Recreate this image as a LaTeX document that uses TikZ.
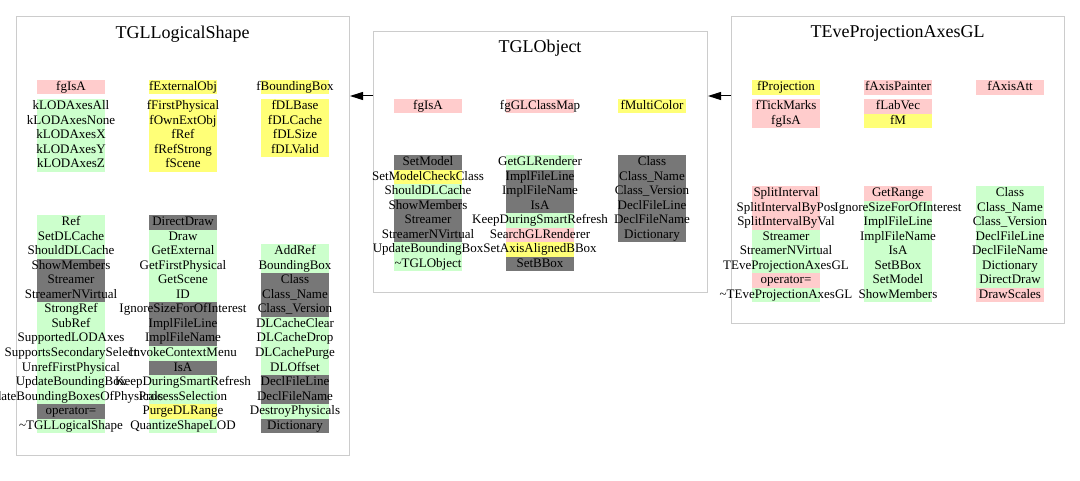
\documentclass[tikz,border=0pt]{standalone}
\usepackage{fontspec}
\setmainfont{Liberation Serif}
\usetikzlibrary{arrows.meta,backgrounds}
\definecolor{cpriv}{RGB}{255,204,204}
\definecolor{cprot}{RGB}{255,255,119}
\definecolor{cpub}{RGB}{204,255,204}
\definecolor{cinh}{RGB}{119,119,119}
\definecolor{cframe}{RGB}{204,204,204}
\tikzset{
  classbox/.style={draw=cframe, line width=1pt, anchor=north west, inner sep=0pt, fill=none},
  titletext/.style={font=\fontsize{18}{20}\selectfont, inner sep=0pt, anchor=base},
  cell/.style={inner sep=0pt, font=\fontsize{13}{15}\selectfont, anchor=base},
  arr/.style={draw=black, line width=1pt, -{Triangle[length=13pt,width=8pt]}},
}
\newcommand\mkcol[5]{%
  \foreach \t/\col [count=\i from 0] in {#5} {
    \begin{pgfonlayer}{background}
      \fill[fill=\col] ({#2-33.75},{#3+\i*#4}) rectangle ++(67.5,#4);
    \end{pgfonlayer}
    \node[cell] (#1-\i) at (#2,{#3+\i*#4+10.5}) {\makebox[67.5pt]{\t}};
  }}
\begin{document}
\begin{tikzpicture}[x=1pt,y=-1pt]
\useasboundingbox (0,0) rectangle (1080,481);
% class boxes
\node[classbox, minimum width=333pt, minimum height=439pt] (shape) at (16,16) {};
\node[classbox, minimum width=334pt, minimum height=261pt] (obj) at (373,31) {};
\node[classbox, minimum width=333pt, minimum height=307pt] (eve) at (731,16) {};
% titles
\node[titletext] (shapet) at (182.5,39) {TGLLogicalShape};
\node[titletext] (objt) at (540,53) {TGLObject};
\node[titletext] (evet) at (897.5,38) {TEveProjectionAxesGL};
% arrows
\coordinate (ay) at (0,96);
\draw[arr] (obj.west |- ay) -- (shape.east |- ay);
\draw[arr] (eve.west |- ay) -- (obj.east |- ay);
% TGLLogicalShape
\mkcol{lsa0a}{71}{80}{14.5}{fgIsA/cpriv}
\mkcol{lsa1}{71}{99.3}{14.5}{kLODAxesAll/cpub,kLODAxesNone/cpub,kLODAxesX/cpub,kLODAxesY/cpub,kLODAxesZ/cpub}
\mkcol{lsa0b}{183}{80}{14.5}{fExternalObj/cprot}
\mkcol{lsa2}{183}{99.3}{14.5}{fFirstPhysical/cprot,fOwnExtObj/cprot,fRef/cprot,fRefStrong/cprot,fScene/cprot}
\mkcol{lsa0c}{295}{80}{14.5}{fBoundingBox/cprot}
\mkcol{lsa3}{295}{99.3}{14.5}{fDLBase/cprot,fDLCache/cprot,fDLSize/cprot,fDLValid/cprot}
\mkcol{lsm1}{71}{215}{14.55}{Ref/cpub,SetDLCache/cpub,ShouldDLCache/cpub,ShowMembers/cinh,Streamer/cinh,StreamerNVirtual/cinh,StrongRef/cpub,SubRef/cpub,SupportedLODAxes/cpub,SupportsSecondarySelect/cpub,UnrefFirstPhysical/cpub,UpdateBoundingBox/cpub,UpdateBoundingBoxesOfPhysicals/cpub,operator=/cinh,\textasciitilde TGLLogicalShape/cpub}
\mkcol{lsm2}{183}{215}{14.55}{DirectDraw/cinh,Draw/cpub,GetExternal/cpub,GetFirstPhysical/cpub,GetScene/cpub,ID/cpub,IgnoreSizeForOfInterest/cinh,ImplFileLine/cinh,ImplFileName/cinh,InvokeContextMenu/cpub,IsA/cinh,KeepDuringSmartRefresh/cpub,ProcessSelection/cpub,PurgeDLRange/cprot,QuantizeShapeLOD/cpub}
\mkcol{lsm3}{295}{244.1}{14.55}{AddRef/cpub,BoundingBox/cpub,Class/cinh,Class\_Name/cinh,Class\_Version/cinh,DLCacheClear/cpub,DLCacheDrop/cpub,DLCachePurge/cpub,DLOffset/cpub,DeclFileLine/cinh,DeclFileName/cinh,DestroyPhysicals/cpub,Dictionary/cinh}
% TGLObject
\mkcol{oa1}{428}{98.8}{14.5}{fgIsA/cpriv}
\mkcol{oa2}{540}{98.8}{14.5}{fgGLClassMap/cpriv}
\mkcol{oa3}{652}{98.8}{14.5}{fMultiColor/cprot}
\mkcol{om1}{428}{155}{14.55}{SetModel/cinh,SetModelCheckClass/cprot,ShouldDLCache/cpub,ShowMembers/cinh,Streamer/cinh,StreamerNVirtual/cinh,UpdateBoundingBox/cpub,\textasciitilde TGLObject/cpub}
\mkcol{om2}{540}{155}{14.55}{GetGLRenderer/cpub,ImplFileLine/cinh,ImplFileName/cinh,IsA/cinh,KeepDuringSmartRefresh/cpub,SearchGLRenderer/cpriv,SetAxisAlignedBBox/cprot,SetBBox/cinh}
\mkcol{om3}{652}{155}{14.55}{Class/cinh,Class\_Name/cinh,Class\_Version/cinh,DeclFileLine/cinh,DeclFileName/cinh,Dictionary/cinh}
% TEveProjectionAxesGL
\mkcol{ea0a}{786}{80.5}{14.5}{fProjection/cprot}
\mkcol{ea1}{786}{99.3}{14.5}{fTickMarks/cpriv,fgIsA/cpriv}
\mkcol{ea0b}{898}{80.5}{14.5}{fAxisPainter/cpriv}
\mkcol{ea2}{898}{99.3}{14.5}{fLabVec/cpriv,fM/cprot}
\mkcol{ea3}{1010}{80.5}{14.5}{fAxisAtt/cpriv}
\mkcol{em1}{786}{186}{14.55}{SplitInterval/cpriv,SplitIntervalByPos/cpriv,SplitIntervalByVal/cpriv,Streamer/cpub,StreamerNVirtual/cpub,TEveProjectionAxesGL/cpub,operator=/cpriv,\textasciitilde TEveProjectionAxesGL/cpub}
\mkcol{em2}{898}{186}{14.55}{GetRange/cpriv,IgnoreSizeForOfInterest/cpub,ImplFileLine/cpub,ImplFileName/cpub,IsA/cpub,SetBBox/cpub,SetModel/cpub,ShowMembers/cpub}
\mkcol{em3}{1010}{186}{14.55}{Class/cpub,Class\_Name/cpub,Class\_Version/cpub,DeclFileLine/cpub,DeclFileName/cpub,Dictionary/cpub,DirectDraw/cpub,DrawScales/cpriv}
\end{tikzpicture}
\end{document}
